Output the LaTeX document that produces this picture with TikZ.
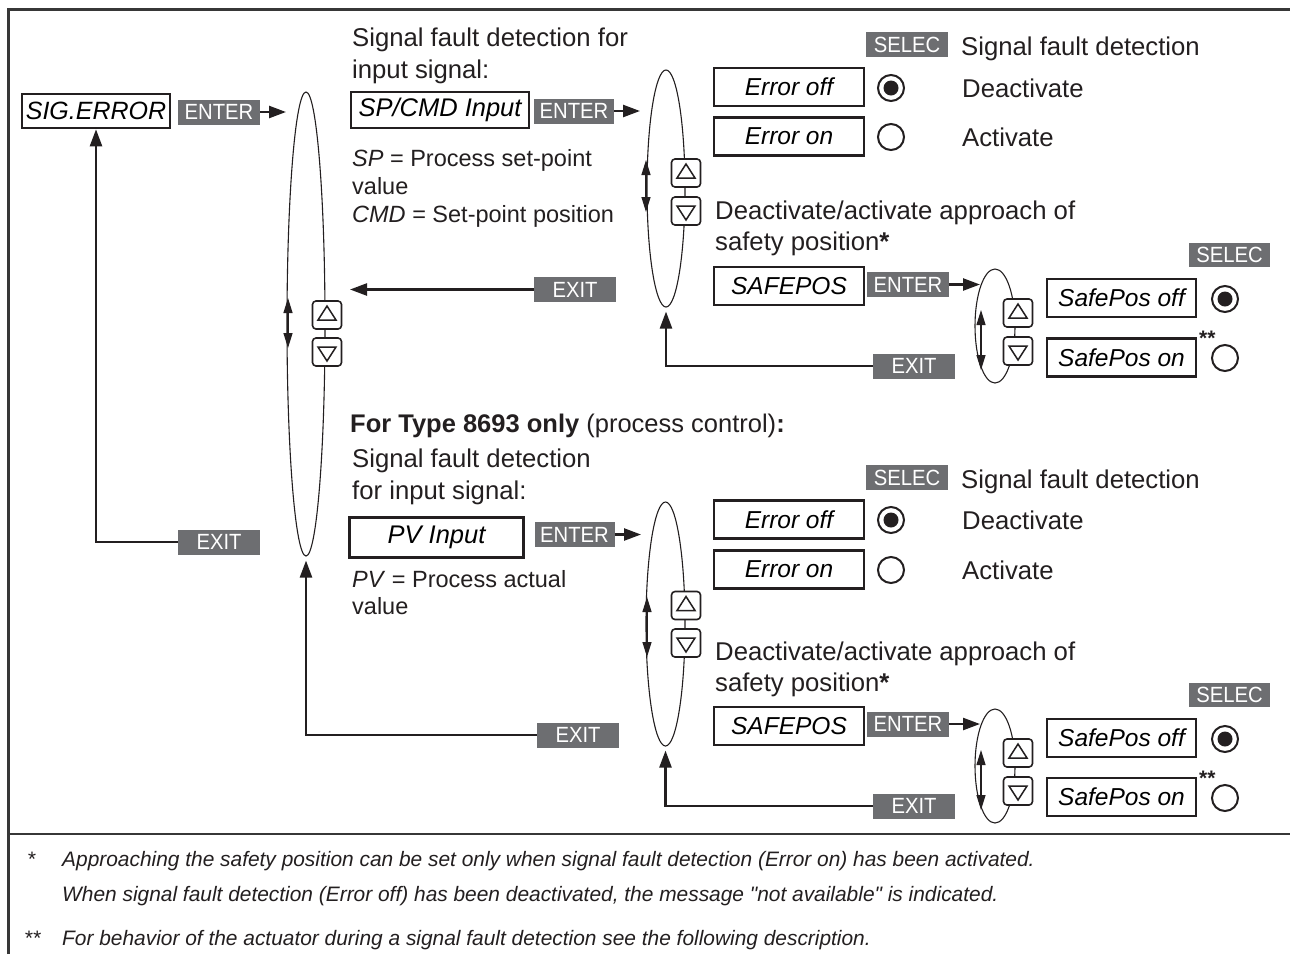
\documentclass[tikz,border=0pt]{standalone}
\usepackage{fontspec}
\setmainfont{Liberation Sans}
\newfontfamily\condfont[FakeStretch=0.92]{Liberation Sans}
\newfontfamily\plainfont{Liberation Sans}
\usetikzlibrary{shapes.geometric,arrows.meta,calc}
\definecolor{tagg}{RGB}{109,110,113}
\definecolor{ink}{RGB}{35,31,32}
\definecolor{framec}{RGB}{55,55,55}
\newcommand\fsz[1]{\fontsize{#1}{#1}\selectfont}
\begin{document}
\begin{tikzpicture}[x=1pt,y=-1pt,
  tag/.style={fill=tagg,text=white,font=\condfont\fsz{22},inner sep=0pt,minimum width=82pt,minimum height=25pt},
  disp/.style={draw=ink,line width=2.2pt,fill=white,font=\itshape\fsz{24.5},inner sep=0pt,minimum width=150pt,minimum height=38pt},
  btn/.style={draw=ink,line width=1.6pt,fill=white,rounded corners=3.5pt,minimum width=29pt,minimum height=28pt,inner sep=0pt},
  upbtn/.style={btn,path picture={\draw[ink,line width=1.5pt,sharp corners] ($(path picture bounding box.center)+(-9,5)$) -- ++(18,0) -- ++(-9,-14) -- cycle;}},
  dnbtn/.style={btn,path picture={\draw[ink,line width=1.5pt,sharp corners] ($(path picture bounding box.center)+(-9,-5)$) -- ++(18,0) -- ++(-9,14) -- cycle;}},
  radio/.style={circle,draw=ink,line width=2pt,minimum size=26pt,inner sep=0pt},
  radioon/.style={radio,path picture={\fill[ink] (path picture bounding box.center) circle (7.5pt);}},
  ell/.style={ellipse,draw=ink,line width=1.1pt,inner sep=0pt},
  conn/.style={draw=ink,line width=2.4pt},
  tip/.style={-{Triangle[length=17pt,width=12pt]}},
  dbl/.style={draw=ink,line width=1.2pt,{Triangle[length=15pt,width=9pt]}-{Triangle[length=15pt,width=9pt]}},
  txt/.style={anchor=base west,inner sep=0pt,font=\fsz{25.7},text=ink},
  stxt/.style={anchor=base west,inner sep=0pt,font=\fsz{23.5},text=ink},
  fn/.style={anchor=base west,inner sep=0pt,font=\plainfont\itshape\fsz{20.9},text=ink},
  stars/.style={anchor=base west,inner sep=0pt,font=\bfseries\fsz{21},text=ink},
]
\useasboundingbox (0,0) rectangle (1290,954);
\fill[white] (0,0) rectangle (1290,954);
% frame
\draw[framec,line width=3pt] (8,954) -- (8,9) -- (1290,9);
\draw[framec,line width=2.5pt] (8,834) -- (1290,834);

% ---------- left column ----------
\node[disp,minimum width=148pt,minimum height=34pt,line width=2.6pt,font=\itshape\fsz{25}] (sig) at (96,111) {SIG.ERROR};
\node[tag] (en1) at (219,112) {ENTER};
\coordinate (en1t) at (286,112);
\draw[conn,tip] (en1) -- (en1t);

\node[ell,minimum width=38pt,minimum height=464pt] (e1) at (306,324) {};
\coordinate (d1a) at (288,298); \coordinate (d1b) at (288,348);
\draw[dbl] (d1a) -- (d1b);
\node[upbtn] (b1u) at (327,315) {};
\node[dnbtn] (b1d) at (327,352) {};

\node[tag] (x1) at (575,289.5) {EXIT};
\coordinate (x1t) at (350,289.5);
\draw[conn,tip] (x1) -- (x1t);

\node[tag] (x2) at (219,542) {EXIT};
\draw[conn,tip] (x2.west) -| (sig.south);

% ---------- upper middle ----------
\node[txt] (t1) at (352,46) {Signal fault detection for};
\node[txt] (t2) at (352,78) {input signal:};
\node[disp,minimum width=178pt,minimum height=36pt,font=\itshape\fsz{25.5}] (spcmd) at (440,110) {SP/CMD Input};
\node[tag,minimum width=80pt] (en2) at (574,111) {ENTER};
\coordinate (en2t) at (640,111);
\draw[conn,tip] (en2) -- (en2t);
\node[stxt] (t3) at (352,166) {\textit{SP} = Process set-point};
\node[stxt] (t4) at (352,194) {value};
\node[stxt] (t5) at (352,222) {\textit{CMD} = Set-point position};

\node[ell,minimum width=38pt,minimum height=237pt] (e2) at (666,188.5) {};
\coordinate (d2a) at (646,160); \coordinate (d2b) at (646,212);
\draw[dbl] (d2a) -- (d2b);
\node[upbtn] (b2u) at (686,173) {};
\node[dnbtn] (b2d) at (686,211) {};

\node[tag] (x3) at (914,366) {EXIT};
\draw[conn,tip,shorten >=4pt] (x3.west) -| (e2.south);

% ---------- upper right ----------
\node[tag] (s1) at (907,44.5) {SELEC};
\node[txt] (t6) at (961,55) {Signal fault detection};
\node[disp] (eoff1) at (789,87) {Error off};
\node[disp] (eon1) at (789,136.5) {Error on};
\node[radioon] (r1) at (891,88) {};
\node[radio] (r2) at (891,137) {};
\node[txt] (t7) at (962,97) {Deactivate};
\node[txt] (t8) at (962,146) {Activate};
\node[txt] (t9) at (715,219) {Deactivate/activate approach of};
\node[txt] (t10) at (715,250) {safety position\textbf{*}};
\node[disp] (sp1) at (789,286) {SAFEPOS};
\node[tag] (en3) at (908,284.5) {ENTER};
\coordinate (en3t) at (980,284.5);
\draw[conn,tip] (en3) -- (en3t);
\node[ell,minimum width=40pt,minimum height=114pt] (e3) at (995,326) {};
\coordinate (d3a) at (981,310); \coordinate (d3b) at (981,370);
\draw[dbl] (d3a) -- (d3b);
\node[upbtn] (b3u) at (1018,313) {};
\node[dnbtn] (b3d) at (1018,351) {};
\node[tag,minimum width=81pt,minimum height=24pt] (s2) at (1229.5,255) {SELEC};
\node[disp,minimum width=149pt] (pof1) at (1121.5,298) {SafePos off};
\node[disp,minimum width=149pt] (pon1) at (1121.5,357.5) {SafePos on};
\node[radioon] (r3) at (1225,299) {};
\node[radio] (r4) at (1225,358) {};
\node[stars] (st1) at (1199,345) {**};

% ---------- lower middle ----------
\node[txt,font=\fsz{25.5}] (t11) at (350,432) {\textbf{For Type 8693 only} (process control)\textbf{:}};
\node[txt] (t12) at (352,467) {Signal fault detection};
\node[txt] (t13) at (352,499) {for input signal:};
\node[disp,minimum width=174pt,minimum height=40pt,font=\itshape\fsz{25.5}] (pv) at (436.5,537.5) {PV Input};
\node[tag,minimum width=80pt] (en4) at (574.5,534.5) {ENTER};
\coordinate (en4t) at (641,534.5);
\draw[conn,tip] (en4) -- (en4t);
\node[stxt] (t14) at (352,587) {\textit{PV} = Process actual};
\node[stxt] (t15) at (352,614) {value};

\node[ell,minimum width=39pt,minimum height=244pt] (e4) at (665.5,624) {};
\coordinate (d4a) at (647,597); \coordinate (d4b) at (647,657);
\draw[dbl] (d4a) -- (d4b);
\node[upbtn] (b4u) at (686,605.5) {};
\node[dnbtn] (b4d) at (686,643) {};

\node[tag] (x5) at (578,735) {EXIT};
\draw[conn,tip,shorten >=4pt] (x5.west) -| (e1.south);
\node[tag] (x6) at (914,806) {EXIT};
\draw[conn,tip,shorten >=4pt] (x6.west) -| (e4.south);

% ---------- lower right ----------
\node[tag] (s3) at (907,477.5) {SELEC};
\node[txt] (t16) at (961,488) {Signal fault detection};
\node[disp] (eoff2) at (789,519.5) {Error off};
\node[disp] (eon2) at (789,569.5) {Error on};
\node[radioon] (r5) at (891,520) {};
\node[radio] (r6) at (891,570) {};
\node[txt] (t17) at (962,529) {Deactivate};
\node[txt] (t18) at (962,579) {Activate};
\node[txt] (t19) at (715,660) {Deactivate/activate approach of};
\node[txt] (t20) at (715,691) {safety position\textbf{*}};
\node[disp] (sp2) at (789,726) {SAFEPOS};
\node[tag] (en6) at (908,724) {ENTER};
\coordinate (en6t) at (980,724);
\draw[conn,tip] (en6) -- (en6t);
\node[ell,minimum width=40pt,minimum height=114pt] (e5) at (995,766) {};
\coordinate (d5a) at (981,750); \coordinate (d5b) at (981,810);
\draw[dbl] (d5a) -- (d5b);
\node[upbtn] (b5u) at (1018,753) {};
\node[dnbtn] (b5d) at (1018,791) {};
\node[tag,minimum width=81pt,minimum height=24pt] (s4) at (1229.5,695) {SELEC};
\node[disp,minimum width=149pt] (pof2) at (1121.5,738) {SafePos off};
\node[disp,minimum width=149pt] (pon2) at (1121.5,797) {SafePos on};
\node[radioon] (r7) at (1225,739) {};
\node[radio] (r8) at (1225,798) {};
\node[stars] (st2) at (1199,785) {**};

% ---------- footnotes ----------
\node[fn] (f0) at (27,866) {*};
\node[fn] (f1) at (62,866) {Approaching the safety position can be set only when signal fault detection (Error on) has been activated.};
\node[fn] (f2) at (62,901) {When signal fault detection (Error off) has been deactivated, the message "not available" is indicated.};
\node[fn] (f3) at (24,945) {**};
\node[fn] (f4) at (62,945) {For behavior of the actuator during a signal fault detection see the following description.};
\end{tikzpicture}
\end{document}
